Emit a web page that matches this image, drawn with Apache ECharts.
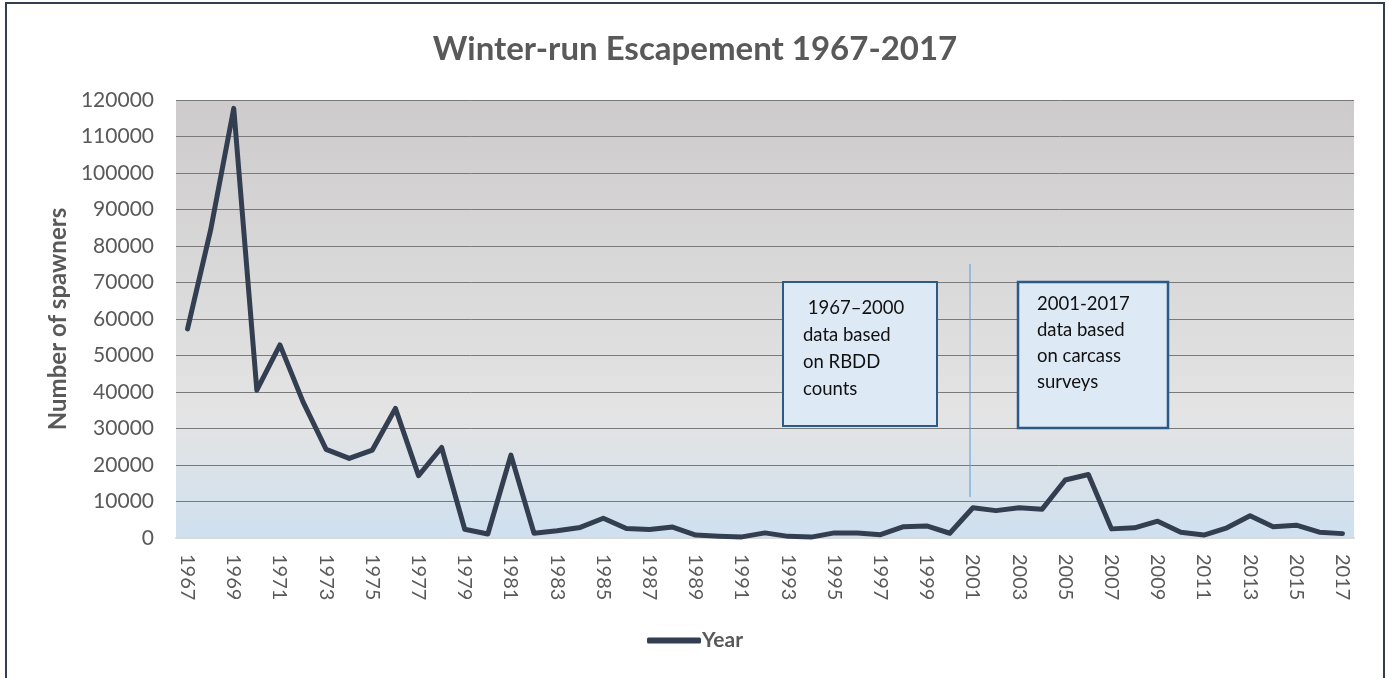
<!DOCTYPE html>
<html>
<head>
<meta charset="utf-8">
<title>Winter-run Escapement</title>
<script src="https://cdn.jsdelivr.net/npm/echarts@6/dist/echarts.min.js"></script>
<style>
  html, body { margin: 0; padding: 0; background: #fff; }
  #main { width: 1390px; height: 678px; }
</style>
</head>
<body>
<div id="main"></div>
<script>
// years 1967..2017
var years = [];
for (var y = 1967; y <= 2017; y++) years.push(String(y));

// spawners per year
var spawners = [
  57300, 84400, 117700, 40500, 52900, 37300, 24300, 21800, 24100, 35500,
  17100, 24800, 2400, 1100, 22700, 1300, 2000, 2900, 5400, 2600,
  2300, 3000, 800, 500, 300, 1400, 450, 250, 1400, 1400,
  900, 3100, 3300, 1300, 8300, 7500, 8300, 7900, 15900, 17400,
  2500, 2800, 4600, 1600, 800, 2800, 6100, 3100, 3500, 1600,
  1200
];

var noteLeft = [' 1967\u20132000', 'data based', 'on RBDD', 'counts'];
var noteRight = ['2001-2017', 'data based', 'on carcass', 'surveys'];

var grey = '#595959';
var font = 'Lato, "Open Sans", sans-serif';

var myChart = echarts.init(document.getElementById('main'));
var option = {
    backgroundColor: '#fff',
    textStyle: {fontFamily: font},
    title: {
        text: 'Winter-run Escapement 1967-2017',
        left: 'center',
        top: 28,
        textStyle: {fontSize: 33, fontWeight: 'bold', color: grey, fontFamily: font}
    },
    legend: {
        data: ['Year'],
        bottom: 22,
        left: 'center',
        icon: 'roundRect',
        itemWidth: 54,
        itemHeight: 6,
        itemGap: 4,
        textStyle: {fontSize: 21, fontWeight: 'bold', color: grey, padding: [0, 0, 0, -4]}
    },
    grid: {
        left: 176,
        right: 36,
        top: 100,
        bottom: 140,
        show: true,
        borderWidth: 0,
        backgroundColor: new echarts.graphic.LinearGradient(0, 0, 0, 1, [
            {offset: 0, color: '#cdcbcb'},
            {offset: 0.72, color: '#e4e4e4'},
            {offset: 1, color: '#cfe0ef'}
        ])
    },
    xAxis: {
        type: 'category',
        data: years,
        boundaryGap: true,
        axisLine: {lineStyle: {color: '#d9d9d9', width: 2}},
        axisTick: {show: false},
        axisLabel: {rotate: -90, interval: 1, margin: 16, fontSize: 20, color: grey}
    },
    yAxis: {
        type: 'value',
        min: 0,
        max: 120000,
        interval: 10000,
        name: 'Number of spawners',
        nameLocation: 'middle',
        nameGap: 104,
        nameTextStyle: {fontSize: 24, fontWeight: 'bold', color: grey},
        axisLine: {show: false},
        axisTick: {show: false},
        axisLabel: {fontSize: 21, color: grey, margin: 22, formatter: function (v) { return String(v); }},
        splitLine: {lineStyle: {color: '#7a7a7a', width: 1}}
    },
    series: [{
        name: 'Year',
        type: 'line',
        data: spawners,
        symbol: 'none',
        color: '#333f50',
        lineStyle: {width: 5, color: '#333f50', cap: 'round', join: 'round'}
    }],
    graphic: [
        {type: 'rect', shape: {x: 6, y: 3, width: 1378, height: 720},
         style: {fill: 'none', stroke: '#333f50', lineWidth: 2}, silent: true},
        {type: 'line', shape: {x1: 970, y1: 264, x2: 970, y2: 497},
         style: {stroke: '#5b9bd5', lineWidth: 1}, z: 10},
        {type: 'rect', shape: {x: 783, y: 282, width: 154, height: 144},
         style: {fill: '#dde9f5', stroke: '#2c5a86', lineWidth: 2}, z: 10},
        {type: 'text', x: 803, y: 295, z: 11,
         style: {text: noteLeft.join('\n'), font: '18.5px ' + font, fill: '#111', lineHeight: 27}},
        {type: 'rect', shape: {x: 1018, y: 282, width: 150, height: 146},
         style: {fill: '#dde9f5', stroke: '#2c5a86', lineWidth: 2.5}, z: 10},
        {type: 'text', x: 1037, y: 291, z: 11,
         style: {text: noteRight.join('\n'), font: '18.5px ' + font, fill: '#111', lineHeight: 26}}
    ]
};
myChart.setOption(option);
</script>
</body>
</html>
